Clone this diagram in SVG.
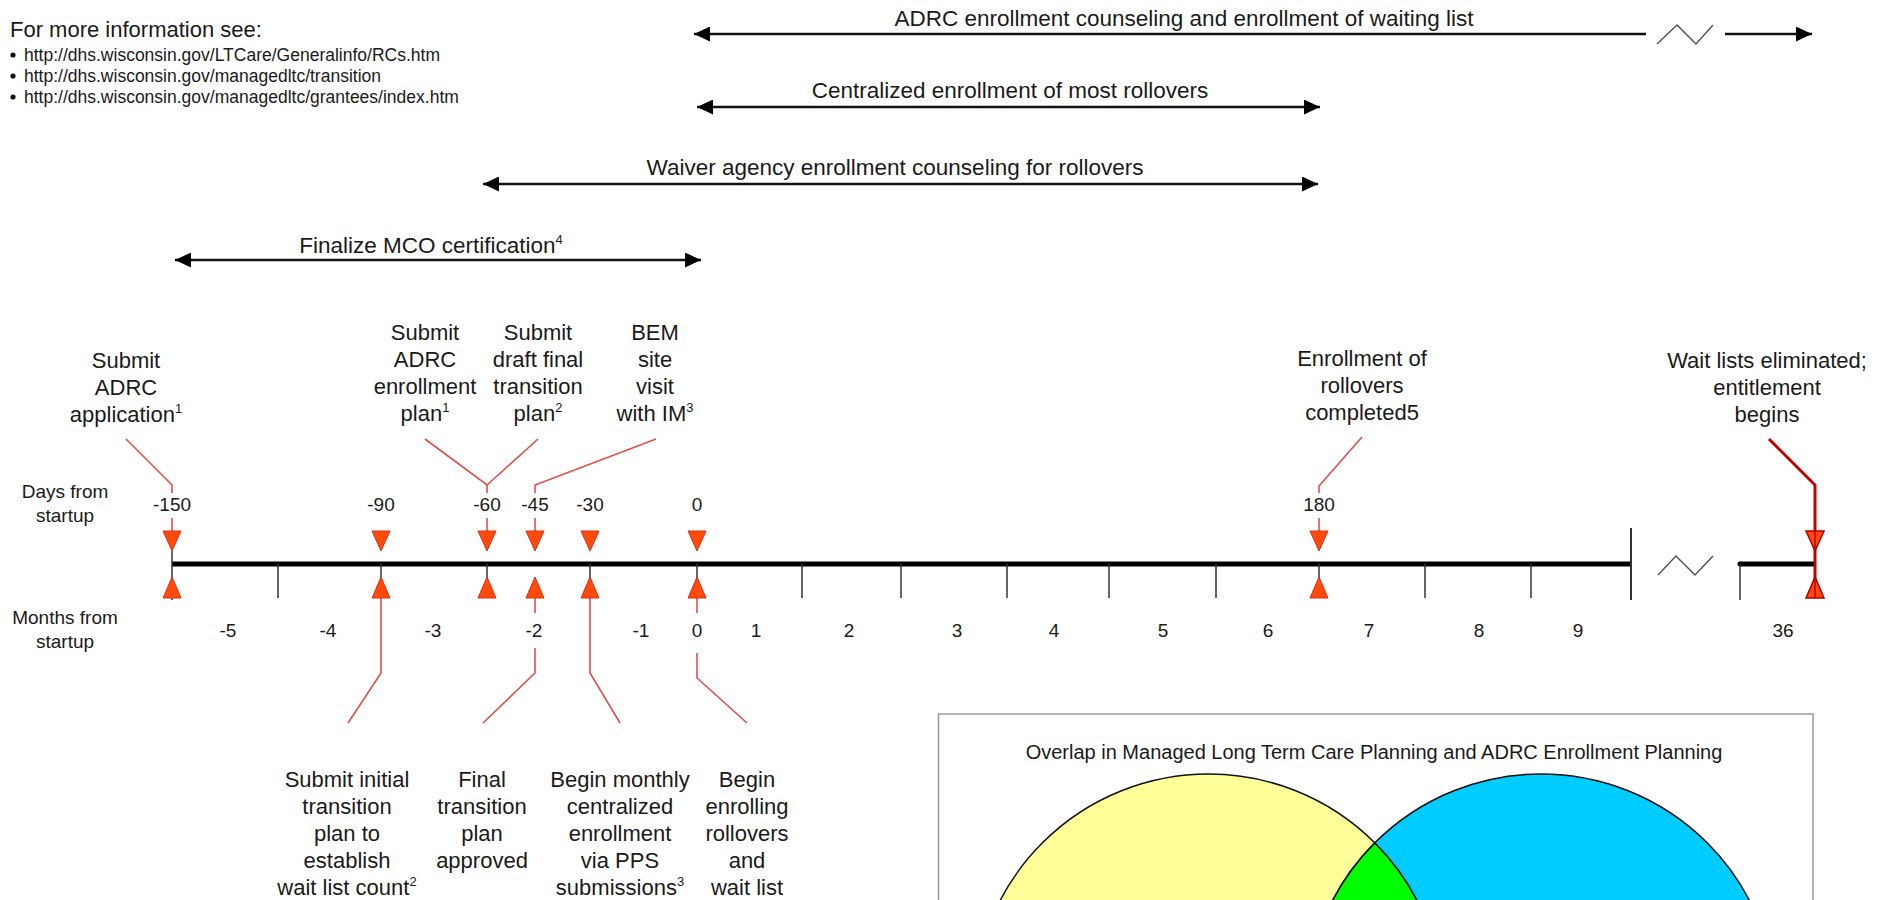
<svg xmlns="http://www.w3.org/2000/svg" xmlns:xlink="http://www.w3.org/1999/xlink" width="1889" height="900" viewBox="0 0 1889 900">
<style>
text{font-family:"Liberation Sans",Arial,sans-serif;fill:#1a1a1a}
.lbl{font-size:22px;text-anchor:middle}
.num{font-size:19px;text-anchor:middle}
.side{font-size:19px;text-anchor:middle}
.rng{font-size:22.5px;text-anchor:middle}
.sup{font-size:13px}
.info{font-size:17.5px}
.rangeline{stroke:#111;stroke-width:2.5;fill:none}
.zig{stroke:#555;stroke-width:1.5;fill:none}
.call{stroke:#E0504A;stroke-width:1.6;fill:none}
.callDark{stroke:#C00000;stroke-width:3;fill:none}
.tick{stroke:#333;stroke-width:1.5}
.axis{stroke:#000;stroke-width:5;stroke-linecap:butt}
.tri{fill:#FF4A0A;stroke:#D8301A;stroke-width:1}
.triDark{fill:#FF4A0A;stroke:#B00000;stroke-width:1.5}
</style>
<defs>
<marker id="ah" markerWidth="16" markerHeight="15" refX="16" refY="7.5" orient="auto-start-reverse" markerUnits="userSpaceOnUse">
<path d="M0,0 L16,7.5 L0,15 Z" fill="#000"/>
</marker>
<path id="tdn" d="M-9,0 L9,0 L0,20 Z"/>
<path id="tup" d="M-9,21 L9,21 L0,0 Z"/>
</defs>
<rect width="1889" height="900" fill="#fff"/>

<g id="info">
<text x="10" y="37" style="font-size:22px">For more information see:</text>
<circle cx="13" cy="55" r="2.6" fill="#111"/>
<text x="24" y="61" class="info">http://dhs.wisconsin.gov/LTCare/Generalinfo/RCs.htm</text>
<circle cx="13" cy="76" r="2.6" fill="#111"/>
<text x="24" y="82" class="info">http://dhs.wisconsin.gov/managedltc/transition</text>
<circle cx="13" cy="97" r="2.6" fill="#111"/>
<text x="24" y="103" class="info">http://dhs.wisconsin.gov/managedltc/grantees/index.htm</text>
</g>

<g id="ranges">
<g id="range-adrc">
<line x1="694" y1="34" x2="1646" y2="34" class="rangeline" marker-start="url(#ah)"/>
<polyline points="1657,44 1677,25 1696,44 1713,25" class="zig"/>
<line x1="1725" y1="34" x2="1812" y2="34" class="rangeline" marker-end="url(#ah)"/>
<text x="1184" y="26" class="rng">ADRC enrollment counseling and enrollment of waiting list</text>
</g>
<g id="range-central">
<line x1="697" y1="107" x2="1320" y2="107" class="rangeline" marker-start="url(#ah)" marker-end="url(#ah)"/>
<text x="1010" y="98" class="rng">Centralized enrollment of most rollovers</text>
</g>
<g id="range-waiver">
<line x1="483" y1="184" x2="1318" y2="184" class="rangeline" marker-start="url(#ah)" marker-end="url(#ah)"/>
<text x="895" y="175" class="rng">Waiver agency enrollment counseling for rollovers</text>
</g>
<g id="range-mco">
<line x1="175" y1="260" x2="701" y2="260" class="rangeline" marker-start="url(#ah)" marker-end="url(#ah)"/>
<text x="431" y="253" class="rng">Finalize MCO certification<tspan class="sup" dy="-9">4</tspan></text>
</g>
</g>

<g id="side-labels">
<text x="65" y="498" class="side">Days from</text>
<text x="65" y="522" class="side">startup</text>
<text x="65" y="624" class="side">Months from</text>
<text x="65" y="648" class="side">startup</text>
</g>

<g id="axis">
<line x1="172" y1="564" x2="1631" y2="564" class="axis"/>
<line x1="1740" y1="564" x2="1815" y2="564" class="axis"/>
<circle cx="1740" cy="564" r="2.5" fill="#000"/>
<polyline points="1658,575 1676,556 1695,575 1713,556" class="zig"/>
<g class="tick">
<line x1="172" y1="551" x2="172" y2="600"/>
<line x1="278" y1="564" x2="278" y2="598"/>
<line x1="381" y1="564" x2="381" y2="598"/>
<line x1="487" y1="564" x2="487" y2="598"/>
<line x1="590" y1="564" x2="590" y2="598"/>
<line x1="697" y1="564" x2="697" y2="598"/>
<line x1="802" y1="564" x2="802" y2="598"/>
<line x1="901" y1="564" x2="901" y2="598"/>
<line x1="1007" y1="564" x2="1007" y2="598"/>
<line x1="1109" y1="564" x2="1109" y2="598"/>
<line x1="1216" y1="564" x2="1216" y2="598"/>
<line x1="1319" y1="564" x2="1319" y2="598"/>
<line x1="1425" y1="564" x2="1425" y2="598"/>
<line x1="1531" y1="564" x2="1531" y2="598"/>
<line x1="1631" y1="528" x2="1631" y2="600" style="stroke-width:2"/>
<line x1="1740" y1="564" x2="1740" y2="600"/>
</g>
<g id="month-labels" class="num">
<text x="228" y="637">-5</text>
<text x="328" y="637">-4</text>
<text x="433" y="637">-3</text>
<text x="534" y="637">-2</text>
<text x="641" y="637">-1</text>
<text x="697" y="637">0</text>
<text x="756" y="637">1</text>
<text x="849" y="637">2</text>
<text x="957" y="637">3</text>
<text x="1054" y="637">4</text>
<text x="1163" y="637">5</text>
<text x="1268" y="637">6</text>
<text x="1369" y="637">7</text>
<text x="1479" y="637">8</text>
<text x="1578" y="637">9</text>
<text x="1783" y="637">36</text>
</g>
</g>

<g id="connectors">
<polyline points="126,439 172,485 172,493" class="call"/>
<line x1="172" y1="518" x2="172" y2="531" class="call"/>
<polyline points="425,439 487,485 538,439" class="call"/>
<line x1="487" y1="485" x2="487" y2="493" class="call"/>
<line x1="487" y1="518" x2="487" y2="531" class="call"/>
<polyline points="656,439 535,485 535,493" class="call"/>
<line x1="535" y1="518" x2="535" y2="531" class="call"/>
<polyline points="1362,437 1319,486 1319,493" class="call"/>
<line x1="1319" y1="518" x2="1319" y2="531" class="call"/>
<polyline points="1769,439 1815,485 1815,598" class="callDark"/>
<polyline points="381,598 381,673 348,723" class="call"/>
<line x1="535" y1="598" x2="535" y2="613" class="call"/>
<polyline points="535,648 535,673 483,723" class="call"/>
<polyline points="590,598 590,673 620,723" class="call"/>
<line x1="697" y1="598" x2="697" y2="613" class="call"/>
<polyline points="697,653 697,678 747,723" class="call"/>
</g>

<g id="m-150"><use xlink:href="#tdn" x="172" y="531" class="tri"/><use xlink:href="#tup" x="172" y="577" class="tri"/><text x="172" y="511" class="num">-150</text></g>
<g id="m-90"><use xlink:href="#tdn" x="381" y="531" class="tri"/><use xlink:href="#tup" x="381" y="577" class="tri"/><text x="381" y="511" class="num">-90</text></g>
<g id="m-60"><use xlink:href="#tdn" x="487" y="531" class="tri"/><use xlink:href="#tup" x="487" y="577" class="tri"/><text x="487" y="511" class="num">-60</text></g>
<g id="m-45"><use xlink:href="#tdn" x="535" y="531" class="tri"/><use xlink:href="#tup" x="535" y="577" class="tri"/><text x="535" y="511" class="num">-45</text></g>
<g id="m-30"><use xlink:href="#tdn" x="590" y="531" class="tri"/><use xlink:href="#tup" x="590" y="577" class="tri"/><text x="590" y="511" class="num">-30</text></g>
<g id="m0"><use xlink:href="#tdn" x="697" y="531" class="tri"/><use xlink:href="#tup" x="697" y="577" class="tri"/><text x="697" y="511" class="num">0</text></g>
<g id="m180"><use xlink:href="#tdn" x="1319" y="531" class="tri"/><use xlink:href="#tup" x="1319" y="577" class="tri"/><text x="1319" y="511" class="num">180</text></g>
<g id="m36"><use xlink:href="#tdn" x="1815" y="531" class="triDark"/><use xlink:href="#tup" x="1815" y="577" class="triDark"/><line x1="1815" y1="531" x2="1815" y2="598" stroke="#C00000" stroke-width="1.5"/></g>

<g id="n-adrc-app" class="lbl">
<text x="126" y="368">Submit</text>
<text x="126" y="395">ADRC</text>
<text x="126" y="422">application<tspan class="sup" dy="-9">1</tspan></text>
</g>
<g id="n-adrc-plan" class="lbl">
<text x="425" y="340">Submit</text>
<text x="425" y="367">ADRC</text>
<text x="425" y="394">enrollment</text>
<text x="425" y="421">plan<tspan class="sup" dy="-9">1</tspan></text>
</g>
<g id="n-draft" class="lbl">
<text x="538" y="340">Submit</text>
<text x="538" y="367">draft final</text>
<text x="538" y="394">transition</text>
<text x="538" y="421">plan<tspan class="sup" dy="-9">2</tspan></text>
</g>
<g id="n-bem" class="lbl">
<text x="655" y="340">BEM</text>
<text x="655" y="367">site</text>
<text x="655" y="394">visit</text>
<text x="655" y="421">with IM<tspan class="sup" dy="-9">3</tspan></text>
</g>
<g id="n-rollovers-done" class="lbl">
<text x="1362" y="366">Enrollment of</text>
<text x="1362" y="393">rollovers</text>
<text x="1362" y="420">completed5</text>
</g>
<g id="n-waitlists" class="lbl">
<text x="1767" y="368">Wait lists eliminated;</text>
<text x="1767" y="395">entitlement</text>
<text x="1767" y="422">begins</text>
</g>
<g id="n-initial" class="lbl">
<text x="347" y="787">Submit initial</text>
<text x="347" y="814">transition</text>
<text x="347" y="841">plan to</text>
<text x="347" y="868">establish</text>
<text x="347" y="895">wait list count<tspan class="sup" dy="-9">2</tspan></text>
</g>
<g id="n-final" class="lbl">
<text x="482" y="787">Final</text>
<text x="482" y="814">transition</text>
<text x="482" y="841">plan</text>
<text x="482" y="868">approved</text>
</g>
<g id="n-monthly" class="lbl">
<text x="620" y="787">Begin monthly</text>
<text x="620" y="814">centralized</text>
<text x="620" y="841">enrollment</text>
<text x="620" y="868">via PPS</text>
<text x="620" y="895">submissions<tspan class="sup" dy="-9">3</tspan></text>
</g>
<g id="n-begin" class="lbl">
<text x="747" y="787">Begin</text>
<text x="747" y="814">enrolling</text>
<text x="747" y="841">rollovers</text>
<text x="747" y="868">and</text>
<text x="747" y="895">wait list</text>
</g>

<g id="venn">
<rect x="938.5" y="714" width="874.5" height="200" fill="#fff" stroke="#9a9a9a" stroke-width="1.5"/>
<text x="1374" y="759" style="font-size:20px;text-anchor:middle">Overlap in Managed Long Term Care Planning and ADRC Enrollment Planning</text>
<circle cx="1208.6" cy="1009" r="235" fill="#FFFF99" stroke="#111" stroke-width="1.5"/>
<circle cx="1541" cy="1009" r="235" fill="#00CCFF" stroke="#111" stroke-width="1.5"/>
<path d="M1374.8,842.9 A235,235 0 0 0 1374.8,1175.1 A235,235 0 0 0 1374.8,842.9 Z" fill="#00FF00" stroke="#111" stroke-width="1.5"/>
</g>
</svg>
